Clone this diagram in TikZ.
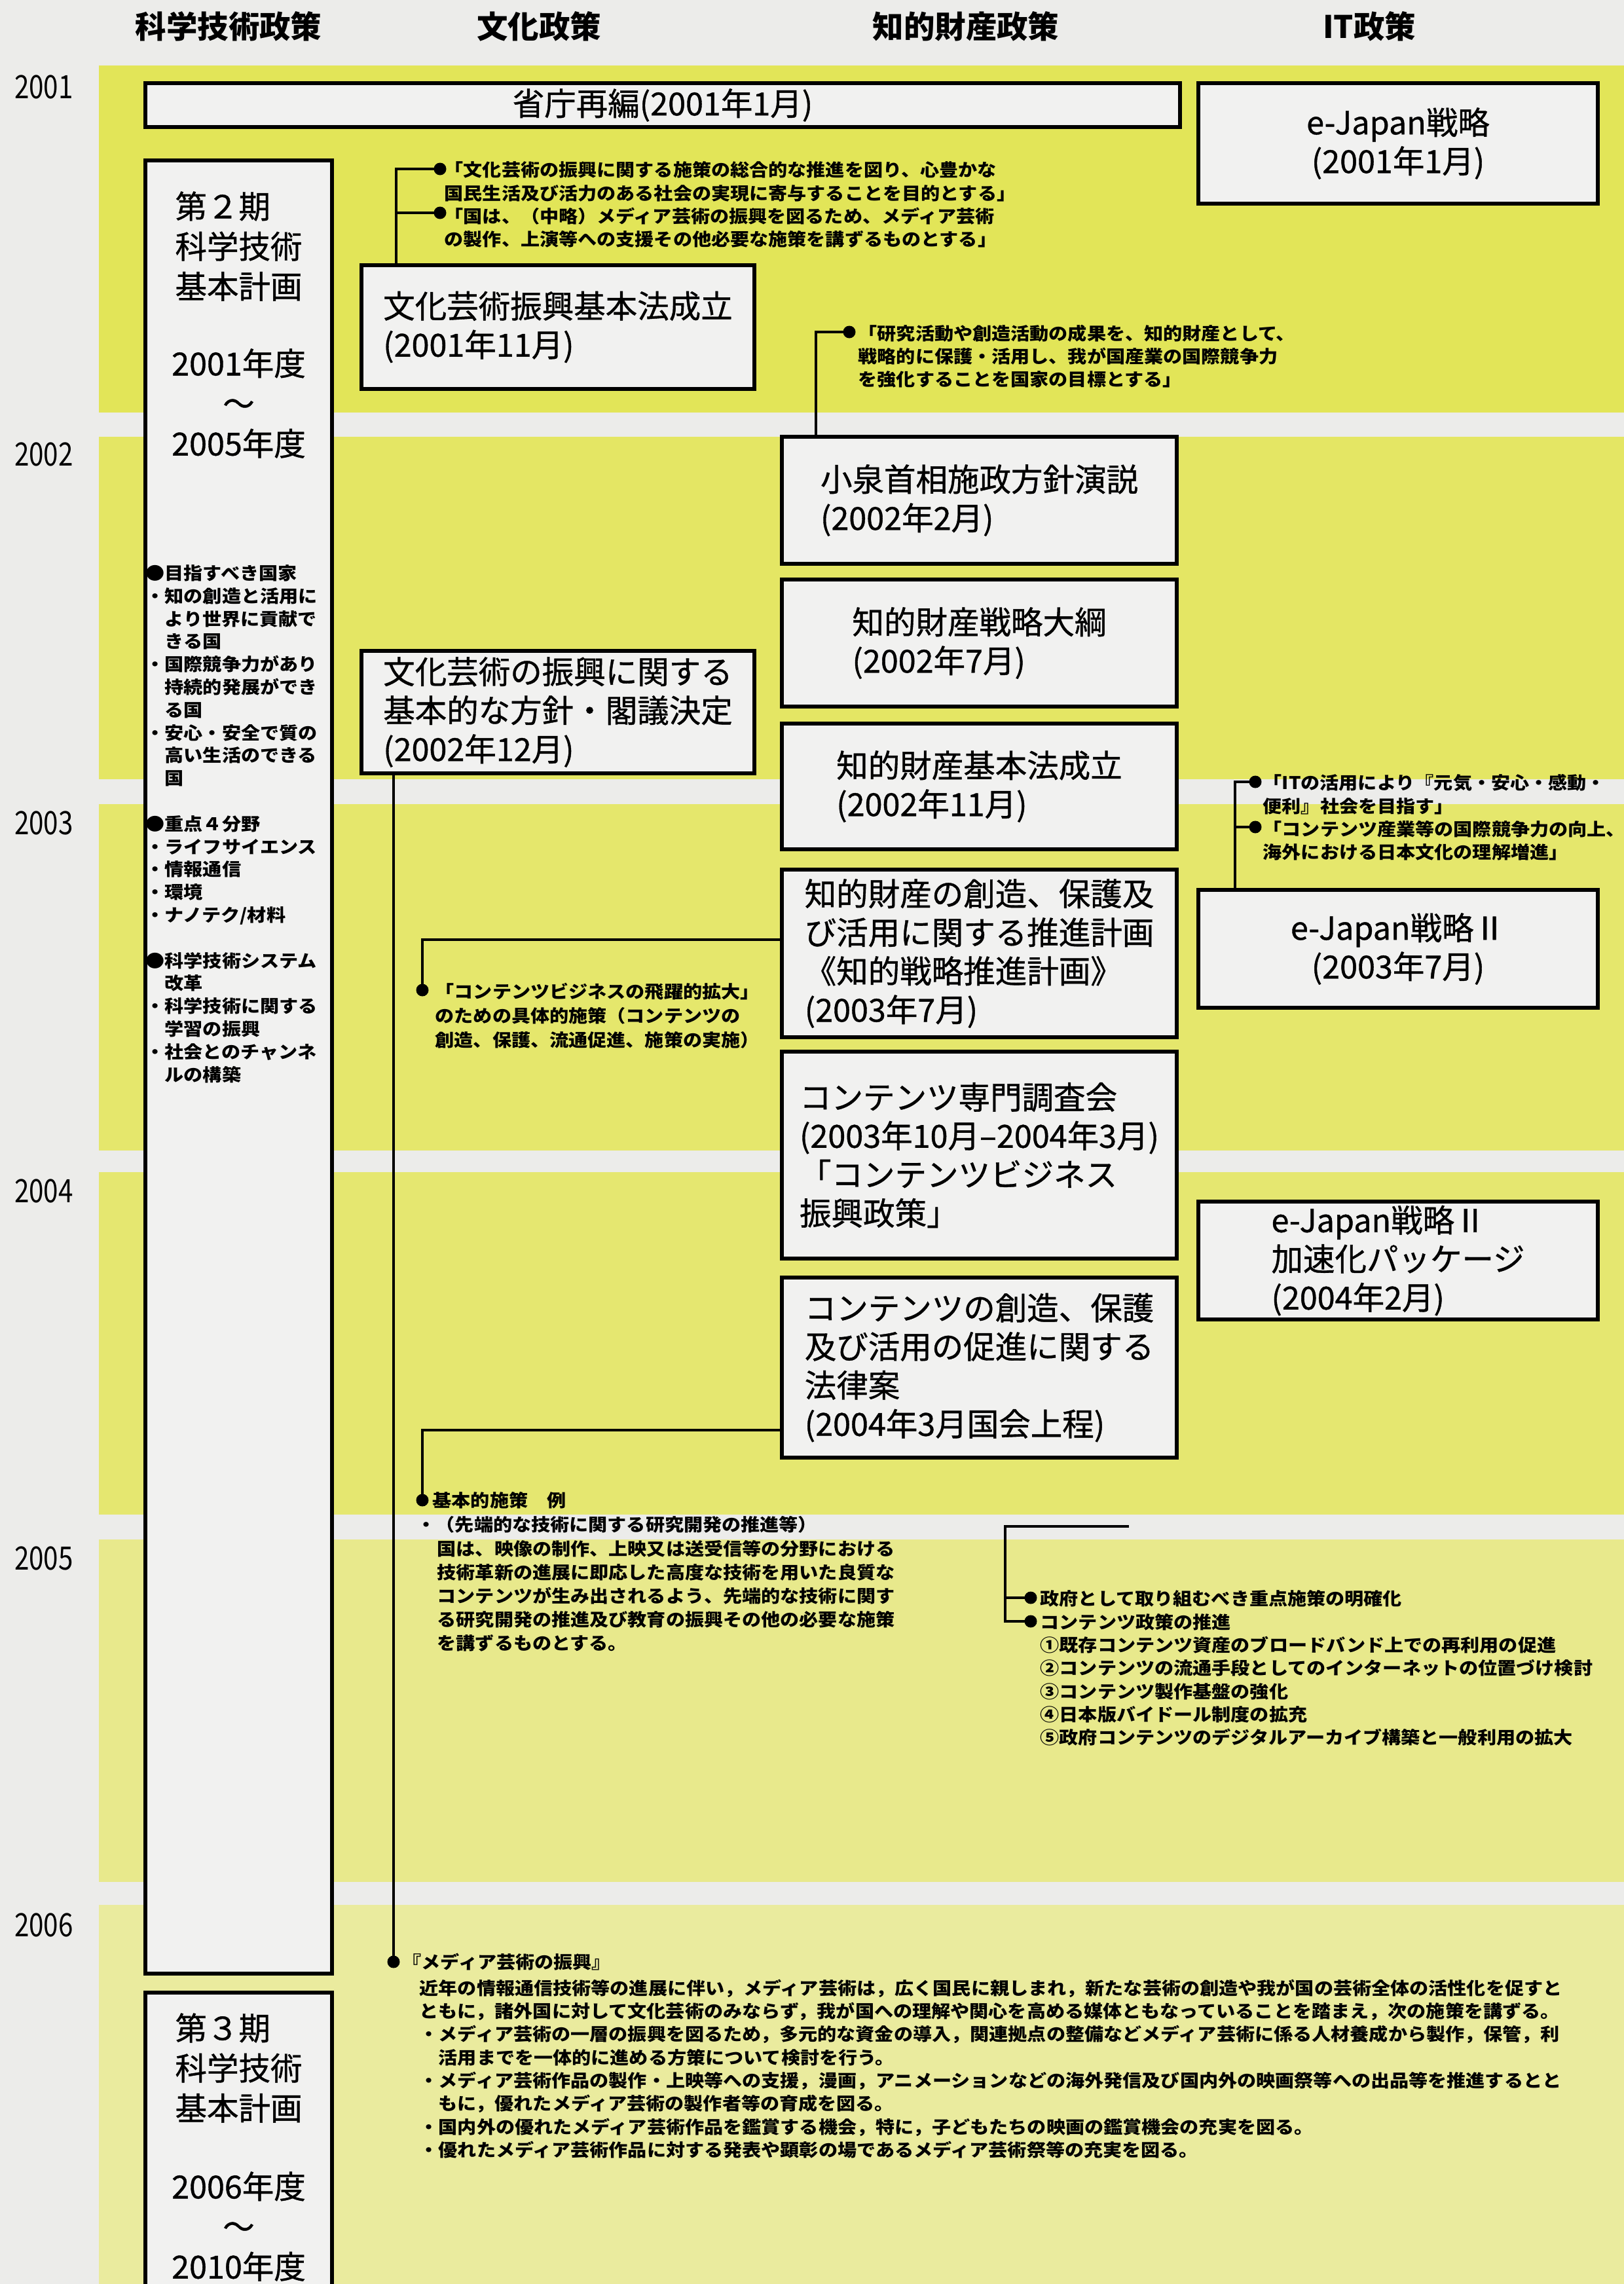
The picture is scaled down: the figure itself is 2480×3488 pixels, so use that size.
\documentclass[tikz,border=0pt]{standalone}
\usepackage{fontspec}
\setmainfont{Noto Sans CJK JP}
\newfontfamily\jpm{Noto Sans CJK JP}[FakeBold=0.8]
\newfontfamily\jps{Noto Sans CJK JP}[FakeStretch=1.09]
\newfontfamily\jpn{Noto Sans CJK JP}[FakeStretch=0.82]
\newcommand\bigf{\jpm\fontsize{13.8}{16.8}\selectfont}
\newcommand\kihf{\jpm\fontsize{13.8}{17.4}\selectfont}
\newcommand\notef{\jps\bfseries\fontsize{7.6}{10.05}\selectfont}
\newcommand\hangb[1]{\llap{#1}}
\definecolor{paper}{RGB}{236,236,234}
\definecolor{boxfill}{RGB}{241,241,240}
\definecolor{bandA}{RGB}{226,229,88}
\definecolor{bandB}{RGB}{228,230,100}
\definecolor{bandC}{RGB}{229,231,108}
\definecolor{bandD}{RGB}{229,231,112}
\definecolor{bandE}{RGB}{232,233,140}
\definecolor{bandF}{RGB}{234,235,158}
\tikzset{
  pbox/.style={draw=black, line width=1.6pt, fill=boxfill, inner sep=0pt, align=left, font=\bigf},
  conn/.style={line width=1.3pt, draw=black},
  notetext/.style={inner sep=0pt, anchor=north west, align=left, font=\notef},
  hdr/.style={font=\fontsize{13.5}{16}\selectfont\bfseries, inner sep=0pt},
  yr/.style={font=\jpn\fontsize{14}{16}\selectfont, inner sep=0pt},
  dotc/.style={fill=black},
}
\begin{document}
\begin{tikzpicture}[x=0.1mm,y=-0.1mm]
\useasboundingbox (0,0) rectangle (2480,3488);
% background
\fill[paper] (0,0) rectangle (2480,3488);
\fill[bandA] (151,100) rectangle (2480,630);
\fill[bandB] (151,667) rectangle (2480,1190);
\fill[bandC] (151,1228) rectangle (2480,1757);
\fill[bandD] (151,1790) rectangle (2480,2313);
\fill[bandE] (151,2351) rectangle (2480,2874);
\fill[bandF] (151,2909) rectangle (2480,3488);

% headers
\node[hdr] (h1) at (349,40) {科学技術政策};
\node[hdr] (h2) at (823,40) {文化政策};
\node[hdr] (h3) at (1475,40) {知的財産政策};
\node[hdr] (h4) at (2091,40) {IT政策};

% years
\node[yr] (y1) at (67,133) {2001};
\node[yr] (y2) at (67,694) {2002};
\node[yr] (y3) at (67,1257) {2003};
\node[yr] (y4) at (67,1819) {2004};
\node[yr] (y5) at (67,2380) {2005};
\node[yr] (y6) at (67,2940) {2006};

% boxes
\node[pbox, minimum width=158mm, minimum height=6.7mm, align=center] (shocho) at (1012,160.5) {省庁再編(2001年1月)};
\node[pbox, minimum width=61mm, minimum height=18.4mm, align=center] (ej1) at (2135,219) {e-Japan戦略\\(2001年1月)};
\node[pbox, minimum width=60mm, minimum height=18.9mm] (bk1) at (852,499.5) {文化芸術振興基本法成立\\ (2001年11月)};
\node[pbox, minimum width=60mm, minimum height=18.7mm] (bk2) at (852,1087.5) {文化芸術の振興に関する\\基本的な方針・閣議決定\\ (2002年12月)};
\node[pbox, minimum width=60.3mm, minimum height=19.4mm] (kz) at (1495.5,764) {小泉首相施政方針演説\\ (2002年2月)};
\node[pbox, minimum width=60.3mm, minimum height=19.4mm] (tk) at (1495.5,982) {知的財産戦略大綱\\ (2002年7月)};
\node[pbox, minimum width=60.3mm, minimum height=19.2mm] (kh) at (1495.5,1201) {知的財産基本法成立\\ (2002年11月)};
\node[pbox, minimum width=60.3mm, minimum height=25.6mm] (ss) at (1495.5,1456) {知的財産の創造、保護及\\び活用に関する推進計画\\《知的戦略推進計画》\\ (2003年7月)};
\node[pbox, minimum width=60.3mm, minimum height=31.6mm] (sm) at (1495.5,1764) {コンテンツ専門調査会\\ (2003年10月–2004年3月)\\「コンテンツビジネス\\振興政策」};
\node[pbox, minimum width=60.3mm, minimum height=27.5mm] (hr) at (1495.5,2088.5) {コンテンツの創造、保護\\及び活用の促進に関する\\法律案\\ (2004年3月国会上程)};
\node[pbox, minimum width=61mm, minimum height=18mm, align=center] (ej2) at (2135,1449) {e-Japan戦略Ⅱ\\(2003年7月)};
\node[pbox, minimum width=61mm, minimum height=18mm] (ej3) at (2135,1925) {e-Japan戦略Ⅱ\\加速化パッケージ\\ (2004年2月)};

% science plan boxes
\node[pbox, minimum width=28.5mm, minimum height=276.9mm] (k2) at (364.5,1629.5) {};
\node[pbox, minimum width=28.5mm, minimum height=52mm] (k3) at (364.5,3303) {};
\node[font=\kihf, align=left, inner sep=0pt] (k2t) at (364.5,376) {第２期\\科学技術\\基本計画};
\node[font=\kihf, align=center, inner sep=0pt] (k2y) at (364.5,616) {2001年度\\～\\2005年度};
\node[font=\kihf, align=left, inner sep=0pt] (k3t) at (364.5,3158) {第３期\\科学技術\\基本計画};
\node[font=\kihf, align=center, inner sep=0pt] (k3y) at (364.5,3400) {2006年度\\～\\2010年度};
\node[notetext, font=\jps\bfseries\fontsize{7.6}{9.9}\selectfont] (k2b) at (251,862) {%
\hangb{●}目指すべき国家\\
\hangb{・}知の創造と活用に\\
より世界に貢献で\\
きる国\\
\hangb{・}国際競争力があり\\
持続的発展ができ\\
る国\\
\hangb{・}安心・安全で質の\\
高い生活のできる\\
国\\[9.9pt]
\hangb{●}重点４分野\\
\hangb{・}ライフサイエンス\\
\hangb{・}情報通信\\
\hangb{・}環境\\
\hangb{・}ナノテク/材料\\[9.9pt]
\hangb{●}科学技術システム\\
改革\\
\hangb{・}科学技術に関する\\
学習の振興\\
\hangb{・}社会とのチャンネ\\
ルの構築};

% connector coordinates
\coordinate (a0) at (605,258);
\coordinate (a1) at (672,258);
\coordinate (a2) at (672,325);
\coordinate (b0) at (1246,507);
\coordinate (b1) at (1297,507);
\coordinate (c0) at (1886,1194);
\coordinate (c1) at (1917,1194);
\coordinate (c2) at (1917,1263);
\coordinate (d0) at (645,1435);
\coordinate (d1) at (645,1512);
\coordinate (e0) at (645,2184);
\coordinate (e1) at (645,2291);
\coordinate (f0) at (1724,2331);
\coordinate (f1) at (1535,2331);
\coordinate (f2) at (1574,2440);
\coordinate (f3) at (1574,2476);
\coordinate (g1) at (601,2996);

% connectors
\draw[conn] (a0 |- bk1.north) -- (a0) -- (a1);
\draw[conn] (a0 |- a2) -- (a2);
\draw[conn] (b0 |- kz.north) -- (b0) -- (b1);
\draw[conn] (c0 |- ej2.north) -- (c0) -- (c1);
\draw[conn] (c0 |- c2) -- (c2);
\draw[conn] (d0 -| ss.west) -- (d0) -- (d1);
\draw[conn] (e0 -| hr.west) -- (e0) -- (e1);
\draw[conn] (f0) -- (f1) -- (f1 |- f3) -- (f3);
\draw[conn] (f1 |- f2) -- (f2);
\draw[conn] (g1 |- bk2.south) -- (g1);
\foreach \p in {a1,a2,b1,c1,c2,d1,e1,f2,f3,g1} \fill[dotc] (\p) circle (0.95mm);

% annotations
\node[notetext] (na) at (678,246) {「文化芸術の振興に関する施策の総合的な推進を図り、心豊かな\\
国民生活及び活力のある社会の実現に寄与することを目的とする」\\
「国は、（中略）メディア芸術の振興を図るため、メディア芸術\\
の製作、上演等への支援その他必要な施策を講ずるものとする」};
\node[notetext] (nb) at (1310,495) {「研究活動や創造活動の成果を、知的財産として、\\
戦略的に保護・活用し、我が国産業の国際競争力\\
を強化することを国家の目標とする」};
\node[notetext] (nc) at (1928,1182) {「ITの活用により『元気・安心・感動・\\
便利』社会を目指す」\\
「コンテンツ産業等の国際競争力の向上、\\
海外における日本文化の理解増進」};
\node[notetext, font=\jps\bfseries\fontsize{7.6}{10.6}\selectfont] (nd) at (664,1500) {「コンテンツビジネスの飛躍的拡大」\\
のための具体的施策（コンテンツの\\
創造、保護、流通促進、施策の実施）};
\node[notetext, anchor=west] (ne1) at (660,2291) {基本的施策　例};
\node[notetext] (ne2) at (636,2315) {・（先端的な技術に関する研究開発の推進等）};
\node[notetext, font=\jps\bfseries\fontsize{7.6}{10.2}\selectfont] (ne3) at (667,2352) {国は、映像の制作、上映又は送受信等の分野における\\
技術革新の進展に即応した高度な技術を用いた良質な\\
コンテンツが生み出されるよう、先端的な技術に関す\\
る研究開発の推進及び教育の振興その他の必要な施策\\
を講ずるものとする。};
\node[notetext] (nf) at (1588,2428) {政府として取り組むべき重点施策の明確化\\
コンテンツ政策の推進\\
①既存コンテンツ資産のブロードバンド上での再利用の促進\\
②コンテンツの流通手段としてのインターネットの位置づけ検討\\
③コンテンツ製作基盤の強化\\
④日本版バイドール制度の拡充\\
⑤政府コンテンツのデジタルアーカイブ構築と一般利用の拡大};
\node[notetext, anchor=west] (ng1) at (614,2996) {『メディア芸術の振興』};
\node[notetext] (ng2) at (640,3022) {近年の情報通信技術等の進展に伴い，メディア芸術は，広く国民に親しまれ，新たな芸術の創造や我が国の芸術全体の活性化を促すと\\
ともに，諸外国に対して文化芸術のみならず，我が国への理解や関心を高める媒体ともなっていることを踏まえ，次の施策を講ずる。\\
・メディア芸術の一層の振興を図るため，多元的な資金の導入，関連拠点の整備などメディア芸術に係る人材養成から製作，保管，利\\
\phantom{・}活用までを一体的に進める方策について検討を行う。\\
・メディア芸術作品の製作・上映等への支援，漫画，アニメーションなどの海外発信及び国内外の映画祭等への出品等を推進するとと\\
\phantom{・}もに，優れたメディア芸術の製作者等の育成を図る。\\
・国内外の優れたメディア芸術作品を鑑賞する機会，特に，子どもたちの映画の鑑賞機会の充実を図る。\\
・優れたメディア芸術作品に対する発表や顕彰の場であるメディア芸術祭等の充実を図る。};
\end{tikzpicture}
\end{document}
